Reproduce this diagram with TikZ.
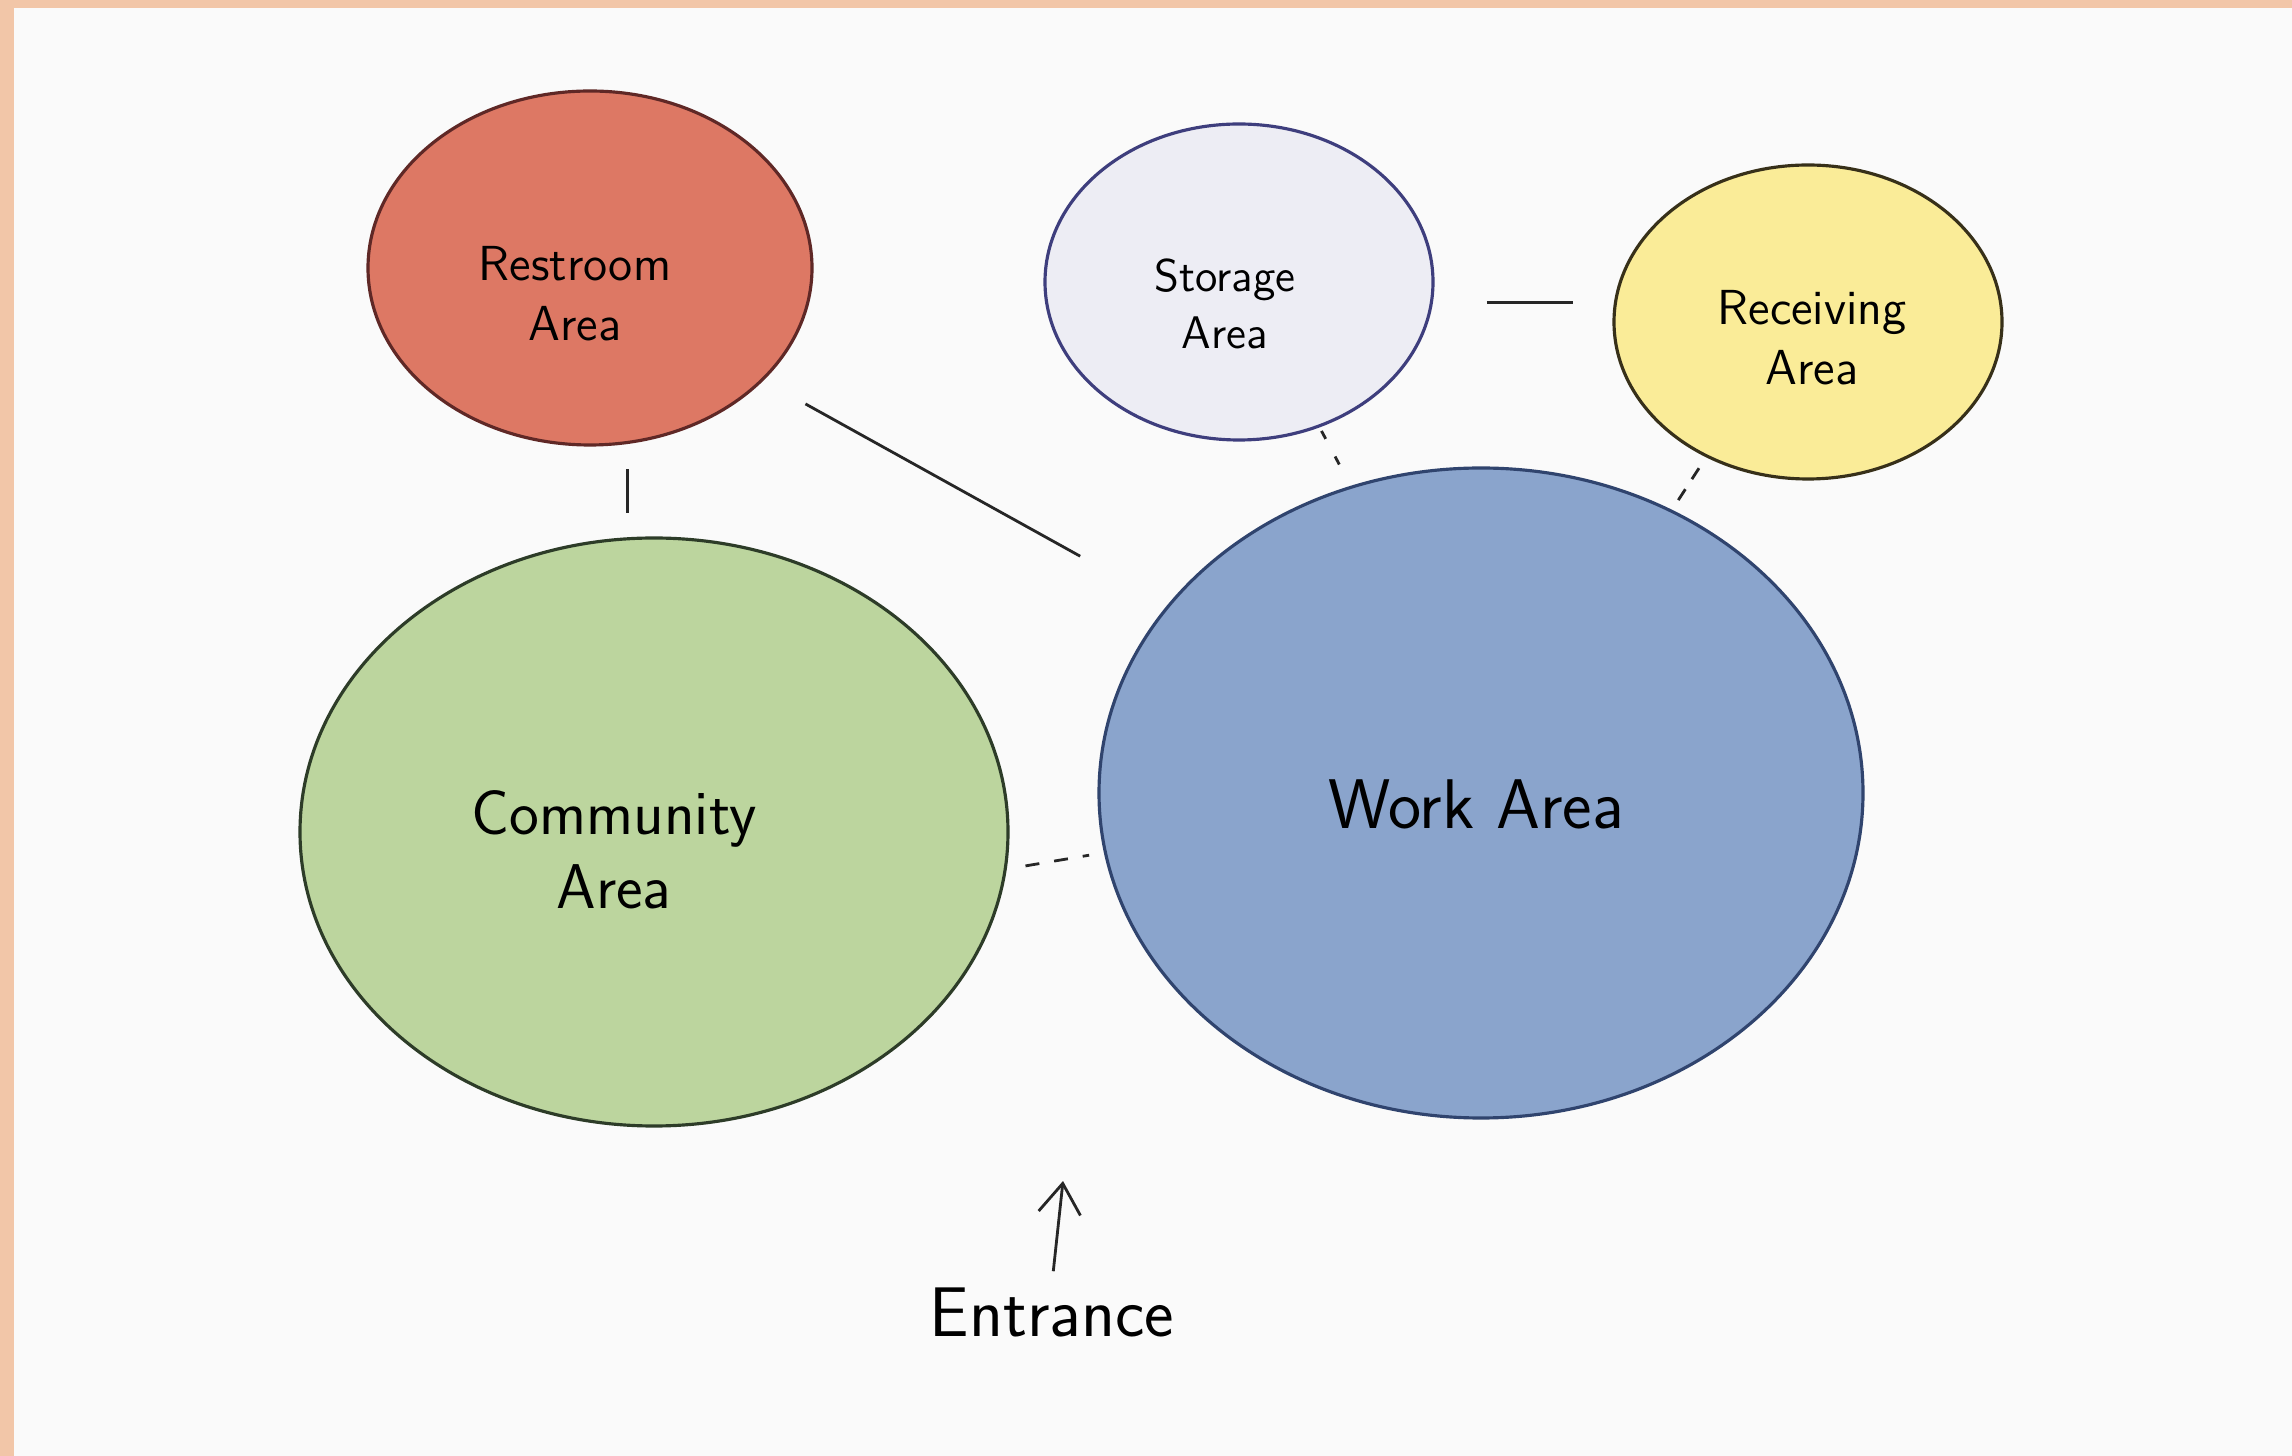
\documentclass[tikz,border=0pt]{standalone}
\usetikzlibrary{shapes.geometric, arrows.meta, calc}
\definecolor{framec}{RGB}{242,198,168}
\definecolor{paperc}{RGB}{250,250,250}
\definecolor{areac1}{RGB}{221,120,100}
\definecolor{areac2}{RGB}{237,237,244}
\definecolor{areac3}{RGB}{250,236,152}
\definecolor{areac4}{RGB}{188,213,158}
\definecolor{areac5}{RGB}{138,164,204}
\definecolor{edgec1}{RGB}{95,40,38}
\definecolor{edgec2}{RGB}{62,62,125}
\definecolor{edgec3}{RGB}{55,48,25}
\definecolor{edgec4}{RGB}{45,60,40}
\definecolor{edgec5}{RGB}{48,68,110}

\begin{document}
\begin{tikzpicture}[x=1cm, y=1cm,
	area/.style={draw, ellipse, line width=0.9pt, inner sep=0pt},
	lbl/.style={font=\sffamily, align=center, inner sep=1pt},
	link/.style={line width=0.8pt, black!85}]
					\fill[framec] (0,0) rectangle (22.92,-14.56);
					\fill[paperc] (0.14,-0.08) rectangle (22.92,-14.56);
					\useasboundingbox (0,0) rectangle (22.92,-14.56);
					
					\node[area, fill=areac1, draw=edgec1, minimum width=4.44cm, minimum height=3.54cm] (rest) at (5.90,-2.68) {};
					\node[area, fill=areac2, draw=edgec2, minimum width=3.88cm, minimum height=3.16cm] (stor) at (12.39,-2.82) {};
					\node[area, fill=areac3, draw=edgec3, minimum width=3.88cm, minimum height=3.14cm] (recv) at (18.08,-3.22) {};
					\node[area, fill=areac4, draw=edgec4, minimum width=7.08cm, minimum height=5.88cm] (comm) at (6.54,-8.32) {};
					\node[area, fill=areac5, draw=edgec5, minimum width=7.64cm, minimum height=6.50cm] (work) at (14.81,-7.93) {};
					
					\node[lbl, font=\sffamily\fontsize{14pt}{17pt}\selectfont] (resttxt) at (5.75,-2.94) {Restroom\\Area};
					\node[lbl, font=\sffamily\fontsize{13pt}{16pt}\selectfont] (stortxt) at (12.25,-3.04) {Storage\\Area};
					\node[lbl, font=\sffamily\fontsize{14pt}{17pt}\selectfont] (recvtxt) at (18.12,-3.38) {Receiving\\Area};
					\node[lbl, font=\sffamily\fontsize{18pt}{21pt}\selectfont] (commtxt) at (6.14,-8.50) {Community\\Area};
					\node[lbl, font=\sffamily\fontsize{20pt}{22pt}\selectfont] (worktxt) at (14.76,-8.04) {Work Area};
					\node[lbl, font=\sffamily\fontsize{20pt}{22pt}\selectfont] (entr) at (10.52,-13.12) {Entrance};
					\coordinate (door) at (10.63,-11.81);
					
					\draw[link, shorten <=0.25cm, shorten >=0.23cm] (rest.-78) -- (comm.north -| rest.-78);
					\draw[link, shorten <=0.48cm, shorten >=1.0cm] (rest.-33) -- (work.149);
					\draw[link, shorten <=0.54cm, shorten >=0.39cm] (stor.-6) -- (stor.-6 -| recv.west);
					\draw[link, dash pattern=on 0.09cm off 0.2cm, shorten <=0.04cm, shorten >=0.2cm] (stor.-61) -- (work.113);
					\draw[link, dash pattern=on 0.13cm off 0.12cm, shorten <=0.13cm, shorten >=0.1cm] (recv.-127) -- (work.56);
					\draw[link, dash pattern=on 0.14cm off 0.15cm, shorten <=0.19cm, shorten >=0.15cm] (comm.-6) -- (work.-171);
					\draw[link, -{Straight Barb[length=0.3cm, width=0.42cm]}, shorten <=0.12cm] (entr.north) -- (door);
					\end{tikzpicture}
\end{document}
